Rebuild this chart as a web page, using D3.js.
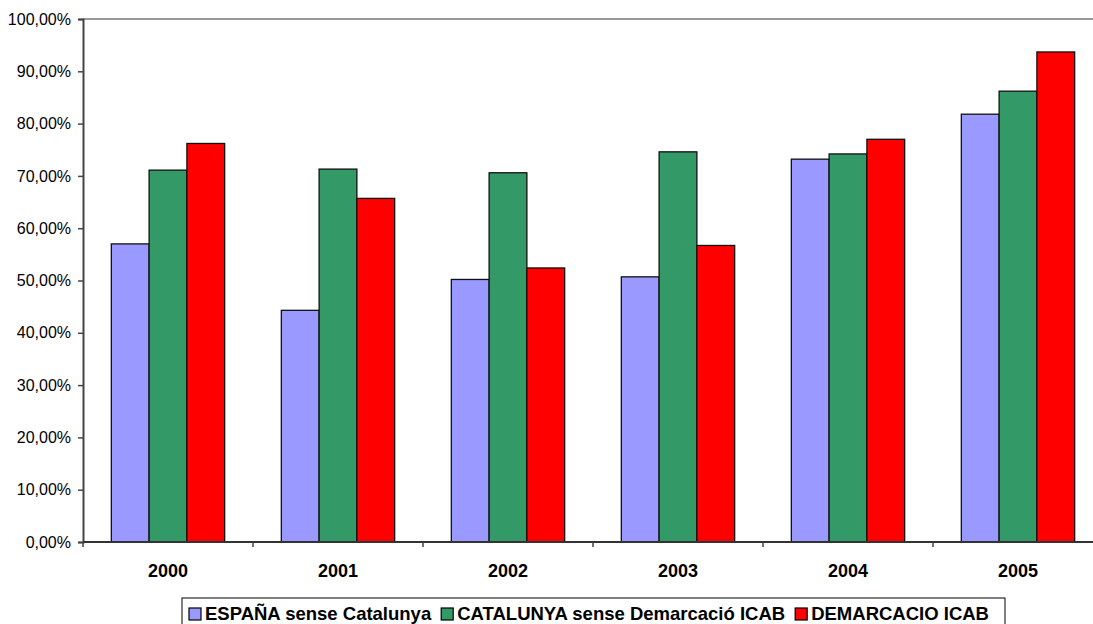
<!DOCTYPE html>
<html>
<head>
<meta charset="utf-8">
<script src="https://cdn.jsdelivr.net/npm/d3@7"></script>
<style>
  body { margin: 0; background: #fff; }
  svg { display: block; font-family: "Liberation Sans", Arial, sans-serif; }
</style>
</head>
<body>
<div id="chart"></div>
<script>
// data
var years = ["2000", "2001", "2002", "2003", "2004", "2005"];
var seriesNames = ["ESPAÑA sense Catalunya", "CATALUNYA sense Demarcació ICAB", "DEMARCACIO ICAB"];
var espanya = [0.570, 0.443, 0.502, 0.507, 0.732, 0.818];
var catalunya = [0.711, 0.713, 0.706, 0.746, 0.742, 0.862];
var demarcacio = [0.762, 0.657, 0.524, 0.567, 0.770, 0.937];
var yTicks = [0, 0.1, 0.2, 0.3, 0.4, 0.5, 0.6, 0.7, 0.8, 0.9, 1.0];
var colors = ["#9999FF", "#339966", "#FF0000"];

var width = 1093, height = 624;
var margin = { left: 83, top: 19, bottom: 82 };
var plotRight = 1103; // plot runs past the right edge in the original

var values = [espanya, catalunya, demarcacio];

var esLocale = d3.formatLocale({ decimal: ",", thousands: ".", grouping: [3], currency: ["", "€"] });
var pct = esLocale.format(".2%");

var svg = d3.select("#chart").append("svg")
  .attr("width", width)
  .attr("height", height);

var x = d3.scaleBand().domain(years).range([margin.left, plotRight]).padding(0);
var xInner = d3.scaleBand().domain(d3.range(3)).range([0, x.bandwidth()])
  .paddingInner(0).paddingOuter(0.75);
var y = d3.scaleLinear().domain([0, 1]).range([height - margin.bottom, margin.top]);

// top border of plot area
svg.append("line")
  .attr("x1", margin.left).attr("x2", plotRight)
  .attr("y1", y(1)).attr("y2", y(1))
  .attr("stroke", "#999").attr("stroke-width", 2);

// bars
var groups = svg.selectAll("g.year")
  .data(years)
  .join("g")
  .attr("class", "year")
  .attr("transform", function (d) { return "translate(" + x(d) + ",0)"; });

groups.selectAll("rect")
  .data(function (d, i) {
    return values.map(function (s, k) { return { k: k, v: s[i] }; });
  })
  .join("rect")
  .attr("x", function (d) { return xInner(d.k); })
  .attr("y", function (d) { return y(d.v); })
  .attr("width", xInner.bandwidth())
  .attr("height", function (d) { return y(0) - y(d.v); })
  .attr("fill", function (d) { return colors[d.k]; })
  .attr("stroke", "#111")
  .attr("stroke-width", 1.3);

// y axis
var yAxis = svg.append("g")
  .attr("transform", "translate(" + margin.left + ",0)")
  .call(d3.axisLeft(y).tickValues(yTicks).tickFormat(pct).tickSize(5).tickPadding(7));
yAxis.select(".domain").attr("stroke", "#444").attr("stroke-width", 2);
yAxis.selectAll(".tick line").attr("stroke", "#444").attr("stroke-width", 1.5);
yAxis.selectAll(".tick text").attr("font-size", "16px").attr("fill", "#000")
  .attr("font-family", "'Liberation Sans', Arial, sans-serif");

// x axis
var xAxis = svg.append("g")
  .attr("transform", "translate(0," + y(0) + ")");
xAxis.append("line")
  .attr("x1", margin.left).attr("x2", plotRight)
  .attr("y1", 0).attr("y2", 0)
  .attr("stroke", "#333").attr("stroke-width", 2);
xAxis.selectAll("line.tick")
  .data(years.concat(["end"]))
  .join("line")
  .attr("class", "tick")
  .attr("x1", function (d, i) { return margin.left + i * x.step(); })
  .attr("x2", function (d, i) { return margin.left + i * x.step(); })
  .attr("y1", 0).attr("y2", 5)
  .attr("stroke", "#444").attr("stroke-width", 1.5);
xAxis.selectAll("text")
  .data(years)
  .join("text")
  .attr("x", function (d) { return x(d) + x.bandwidth() / 2; })
  .attr("y", 35)
  .attr("text-anchor", "middle")
  .attr("font-size", "18px")
  .attr("font-weight", "bold")
  .text(function (d) { return d; });

// legend
var legend = svg.append("g");
legend.append("rect")
  .attr("x", 182).attr("y", 598)
  .attr("width", 823).attr("height", 32)
  .attr("fill", "#fff").attr("stroke", "#000").attr("stroke-width", 1);

var lx = 189;
seriesNames.forEach(function (name, k) {
  legend.append("rect")
    .attr("x", lx).attr("y", 608)
    .attr("width", 12).attr("height", 12)
    .attr("fill", colors[k]).attr("stroke", "#000").attr("stroke-width", 1.2);
  var t = legend.append("text")
    .attr("x", lx + 16).attr("y", 620)
    .attr("font-size", "18.5px")
    .attr("font-weight", "bold")
    .text(name);
  lx += 16 + t.node().getComputedTextLength() + 10;
});
</script>
</body>
</html>
